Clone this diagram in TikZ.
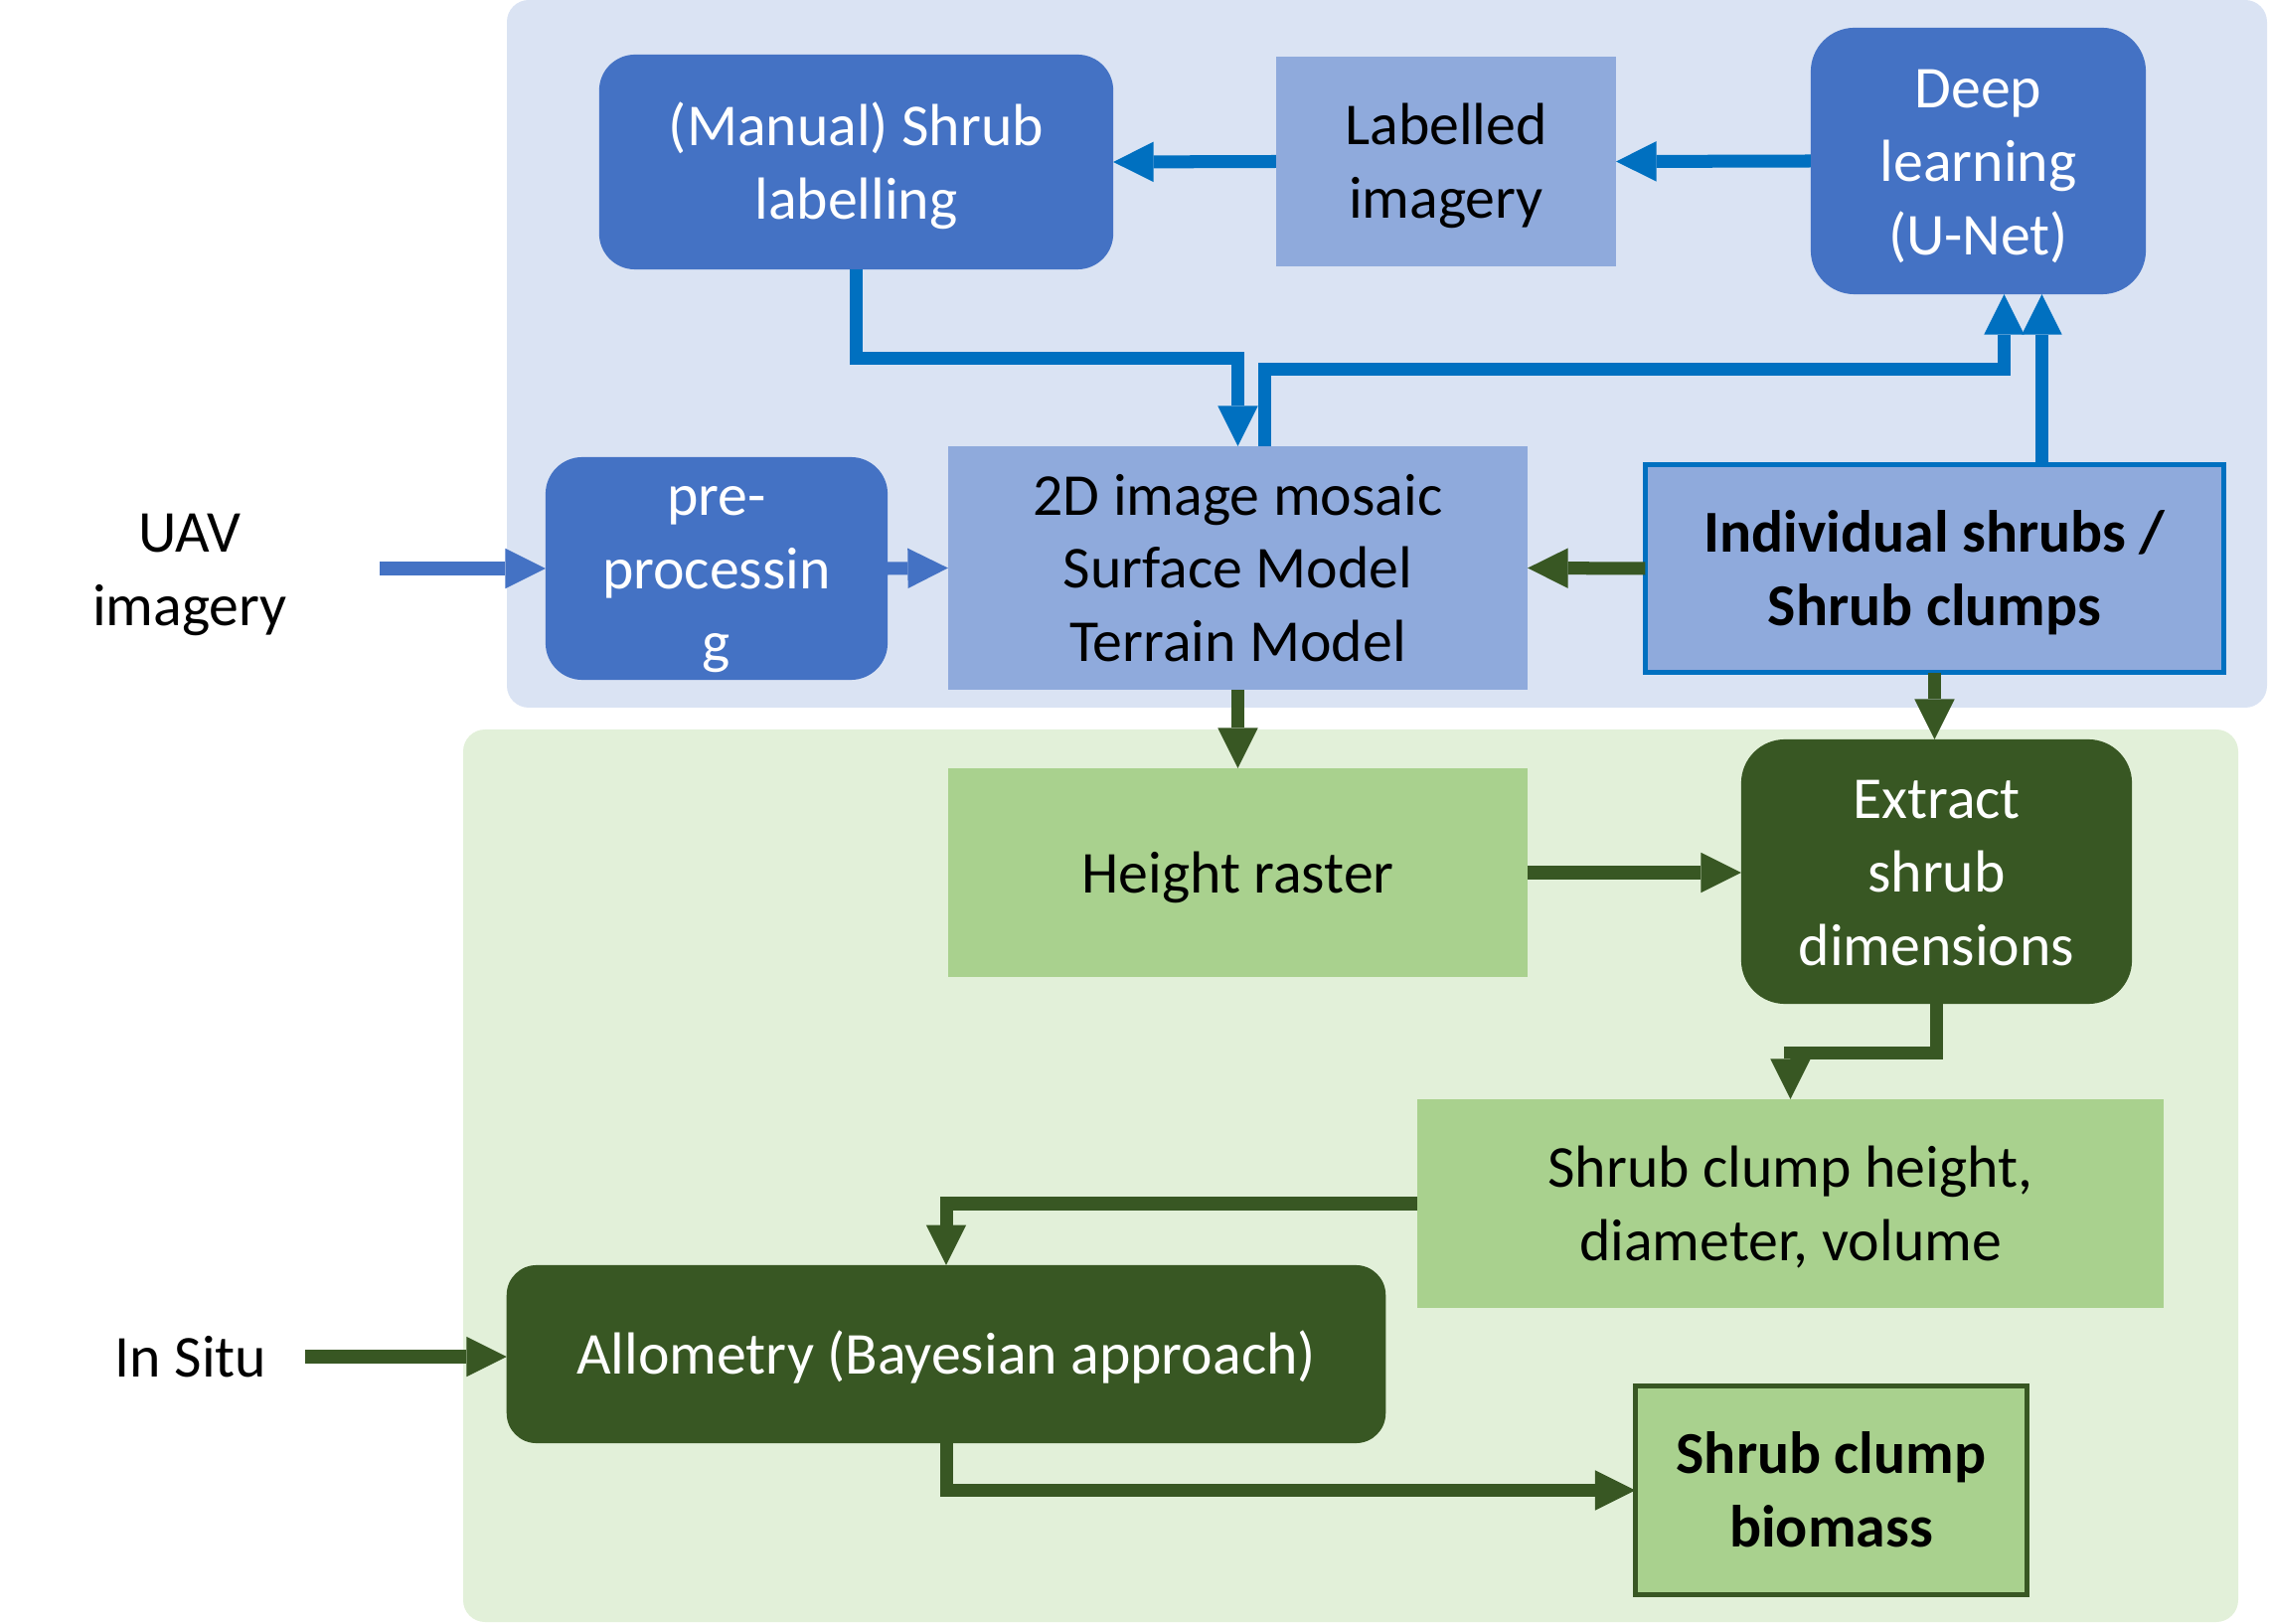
\documentclass[tikz,border=0pt]{standalone}
\usepackage{fontspec}
\setmainfont{Carlito}
\usetikzlibrary{arrows.meta,calc}
\definecolor{dblue}{HTML}{4472C4}
\definecolor{lblue}{HTML}{8FAADC}
\definecolor{pblue}{HTML}{DAE3F3}
\definecolor{ablue}{HTML}{0070C0}
\definecolor{dgreen}{HTML}{385723}
\definecolor{lgreen}{HTML}{A9D18E}
\definecolor{pgreen}{HTML}{E2F0D9}
\newcommand{\ls}{\rule[-0.269em]{0pt}{1.221em}}
\begin{document}
\begin{tikzpicture}[x=0.01cm,y=-0.01cm,
  every node/.style={font=\fontsize{17}{21}\selectfont, align=center, inner sep=0pt, outer sep=0pt},
  dbox/.style={fill=dblue, text=white, rounded corners=#1},
  lbbox/.style={fill=lblue},
  dgbox/.style={fill=dgreen, text=white, rounded corners=#1},
  lgbox/.style={fill=lgreen},
  tipA/.style={-{Triangle[length=11.5pt,width=11.5pt,line width=0pt]}},
  barrow/.style={tipA, draw=dblue, line width=3.7pt},
  carrow/.style={tipA, draw=ablue, line width=3.7pt},
  garrow/.style={tipA, draw=dgreen, line width=3.7pt},
  plain/.style={text=black}
]
\useasboundingbox (0,0) rectangle (2284,1634);
% panels
\fill[pblue, rounded corners=0.22cm] (510,0) rectangle (2281,712);
\fill[pgreen, rounded corners=0.22cm] (466,734) rectangle (2252,1632);

% nodes
\node[dbox=0.36cm, minimum width=5.17cm, minimum height=2.16cm] (man) at (861.5,163) {\ls(Manual) Shrub\\labelling\ls};
\node[lbbox, minimum width=3.42cm, minimum height=2.11cm] (lab) at (1455,162.5) {\ls Labelled\\imagery\ls};
\node[dbox=0.44cm, minimum width=3.37cm, minimum height=2.68cm] (deep) at (1990.5,162) {\ls Deep\\learning\\(U-Net)\ls};
\node[dbox=0.37cm, minimum width=3.44cm, minimum height=2.24cm] (pre) at (721,572) {\ls pre-\\processin\\g\ls};
\node[lbbox, minimum width=5.83cm, minimum height=2.45cm] (mos) at (1245.5,571.5) {\ls 2D image mosaic\\Surface Model\\Terrain Model\ls};
\node[lbbox, draw=ablue, line width=0.05cm, minimum width=5.82cm, minimum height=2.09cm, font=\fontsize{17}{21}\selectfont\bfseries] (ind) at (1946.5,572) {\ls Individual shrubs /\\Shrub clumps\ls};
\node[lgbox, minimum width=5.83cm, minimum height=2.10cm] (hr) at (1245.5,878) {\ls Height raster\ls};
\node[dgbox=0.44cm, minimum width=3.93cm, minimum height=2.66cm] (ext) at (1948.5,877) {\ls Extract\\shrub\\dimensions\ls};
\node[lgbox, minimum width=7.51cm, minimum height=2.10cm] (sch) at (1801.5,1211) {\ls Shrub clump height,\\diameter, volume\ls};
\node[dgbox=0.30cm, minimum width=8.84cm, minimum height=1.79cm] (all) at (952,1362.5) {\ls Allometry (Bayesian approach)\ls};
\node[lgbox, draw=dgreen, line width=0.05cm, minimum width=3.94cm, minimum height=2.10cm, font=\fontsize{17}{21}\selectfont\bfseries] (bio) at (1842.5,1499.5) {\ls Shrub clump\\biomass\ls};
\node[plain] (uav) at (191,572) {\ls UAV\\imagery\ls};
\node[plain] (situ) at (192,1365) {\ls In Situ\ls};

% free ends
\coordinate (uavA) at (382,572);
\coordinate (situA) at (307,1365);
\coordinate (mosUp) at ($(mos.north)+(26.5,0)$);
\coordinate (indUp) at ($(ind.north)+(108,0)$);

% blue connectors
\draw[barrow] (uavA) -- (pre.west);
\draw[barrow] (pre.east) -- (mos.west);
\draw[carrow] (lab.west) -- (man.east);
\draw[carrow] (deep.west) -- (lab.east);
\draw[carrow] (man.south) -- ++(0,89) -| (mos.north);
\draw[carrow] (mosUp) -- ++(0,-77) -| ($(deep.south)+(26,0)$);
\draw[carrow] (indUp) -- (indUp |- deep.south);

% green connectors
\draw[garrow] (ind.west) -- (mos.east);
\draw[garrow] (mos.south) -- (hr.north);
\draw[garrow] (ind.south) -- (ind.south |- ext.north);
\draw[garrow] (hr.east) -- (hr.east -| ext.west);
\draw[garrow] (ext.south) -- ++(0,49) -| (sch.north);
\draw[garrow] (sch.west) -| (all.north);
\draw[garrow] (situA) -- (situA -| all.west);
\draw[garrow] (all.south) |- (bio.west);
\end{tikzpicture}
\end{document}
